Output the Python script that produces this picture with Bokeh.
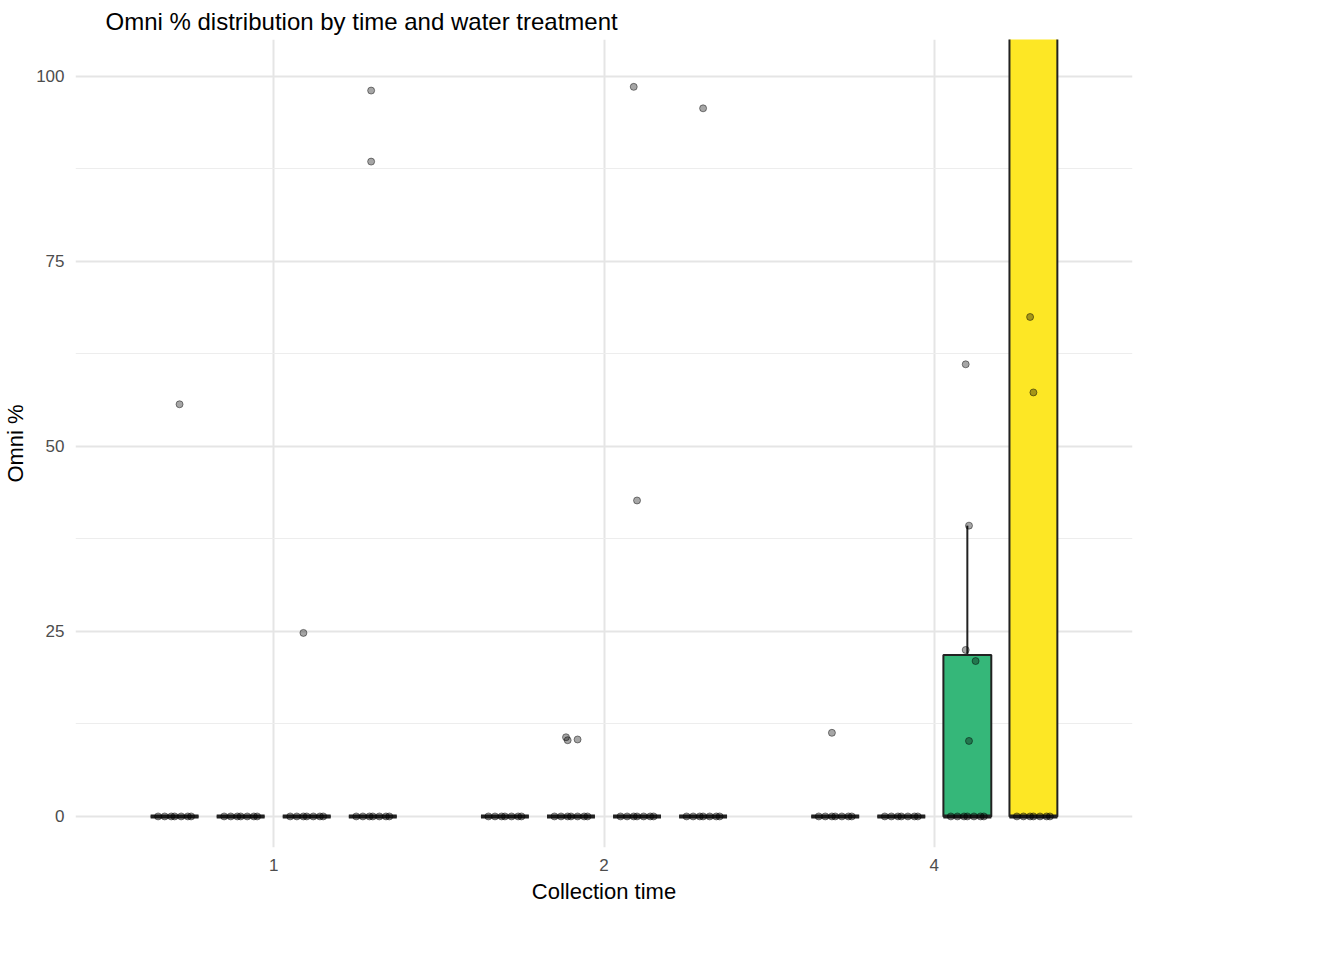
from bokeh.plotting import figure
from bokeh.models import FixedTicker, Legend, LegendItem, ColumnDataSource
from bokeh.embed import file_html
from bokeh.resources import INLINE

times = ["1", "2", "4"]
trts = ["0", "3", "6", "9"]
colors = ["#440154", "#31688E", "#35B779", "#FDE725"]
trt_offset = [-0.3, -0.1, 0.1, 0.3]

# box stats per (time, trt): q1, median, q3, whisker high
box_time = [0,0,0,0, 1,1,1,1, 2,2,2,2]
box_trt  = [0,1,2,3, 0,1,2,3, 0,1,2,3]
box_q1   = [0,0,0,0, 0,0,0,0, 0,0,0,0]
box_med  = [0,0,0,0, 0,0,0,0, 0,0,0,0]
box_q3   = [0,0,0,0, 0,0,0,0, 0,0,21.8,140]
box_whi  = [0,0,0,0, 0,0,0,0, 0,0,39.3,140]

pt_time = []
pt_trt = []
pt_val = []
pt_dx = []
zero_dx = [-0.05, -0.03, -0.01, 0.0, 0.02, 0.04, 0.05]
for ti in range(3):
    for tr in range(4):
        for d in zero_dx:
            pt_time.append(ti); pt_trt.append(tr); pt_val.append(0.0); pt_dx.append(d)
extra = [
    (0, 0, 55.7, 0.015), (0, 2, 24.8, -0.01), (0, 3, 98.1, -0.005), (0, 3, 88.5, -0.005),
    (1, 1, 10.7, -0.015), (1, 1, 10.3, -0.01), (1, 1, 10.4, 0.02),
    (1, 2, 98.6, -0.01), (1, 2, 42.7, 0.0), (1, 3, 95.7, 0.0),
    (2, 0, 11.3, -0.01), (2, 2, 61.1, -0.005), (2, 2, 39.3, 0.005), (2, 2, 22.5, -0.005),
    (2, 2, 21.0, 0.025), (2, 2, 10.2, 0.005), (2, 3, 67.5, -0.01), (2, 3, 57.3, 0.0),
]
for a, b, v, d in extra:
    pt_time.append(a); pt_trt.append(b); pt_val.append(v); pt_dx.append(d)

p = figure(frame_width=1057, frame_height=808, output_backend="svg", toolbar_location=None,
           x_range=(0.4, 3.6), y_range=(-4.2, 105),
           title="Omni % distribution by time and water treatment",
           min_border_left=10, min_border_right=10, min_border_top=10, min_border_bottom=10)
p.title.text_font = "Liberation Sans"
p.title.text_font_size = "24px"
p.title.text_font_style = "normal"
p.title.text_color = "black"
p.title.offset = 30
p.outline_line_color = None

for ax in (p.xaxis, p.yaxis):
    ax.axis_line_color = None
    ax.major_tick_line_color = None
    ax.minor_tick_line_color = None
    ax.major_label_text_font = "Liberation Sans"
    ax.major_label_text_font_size = "17px"
    ax.major_label_text_color = "#4d4d4d"
    ax.axis_label_text_font = "Liberation Sans"
    ax.axis_label_text_font_size = "22px"
    ax.axis_label_text_font_style = "normal"
    ax.axis_label_text_color = "black"
p.xaxis.axis_label = "Collection time"
p.yaxis.axis_label = "Omni %"
p.xaxis.ticker = FixedTicker(ticks=[1, 2, 3])
p.xaxis.major_label_overrides = {1: times[0], 2: times[1], 3: times[2]}
p.yaxis.ticker = FixedTicker(ticks=[0, 25, 50, 75, 100], minor_ticks=[12.5, 37.5, 62.5, 87.5])
p.xgrid.grid_line_color = "#e5e5e5"
p.xgrid.grid_line_width = 2
p.ygrid.grid_line_color = "#e5e5e5"
p.ygrid.grid_line_width = 2
p.ygrid.minor_grid_line_color = "#ededed"
p.ygrid.minor_grid_line_width = 1

bw = 0.145
renderers = {}
for tr in range(4):
    xs, q1, q3, med, whi = [], [], [], [], []
    for i in range(len(box_time)):
        if box_trt[i] == tr:
            xs.append(box_time[i] + 1 + trt_offset[tr])
            q1.append(box_q1[i]); q3.append(box_q3[i]); med.append(box_med[i]); whi.append(box_whi[i])
    src = ColumnDataSource(dict(x=xs, q1=q1, q3=q3, med=med, whi=whi,
                                l=[x - bw / 2 for x in xs], r=[x + bw / 2 for x in xs]))
    p.segment(x0="x", x1="x", y0="q3", y1="whi", source=src, line_color="#222222", line_width=2)
    r = p.quad(left="l", right="r", bottom="q1", top="q3", source=src,
               fill_color=colors[tr], line_color="#222222", line_width=2)
    p.segment(x0="l", x1="r", y0="med", y1="med", source=src, line_color="#222222", line_width=4)
    renderers[tr] = r

px = [pt_time[i] + 1 + trt_offset[pt_trt[i]] + pt_dx[i] for i in range(len(pt_val))]
p.scatter(px, pt_val, size=7, fill_color="black", fill_alpha=0.35, line_color="black", line_alpha=0.45)

legend = Legend(items=[LegendItem(label=trts[i], renderers=[renderers[i]]) for i in range(4)],
                title="WaterTrt", location="center")
legend.title_text_font = "Liberation Sans"
legend.title_text_font_size = "22px"
legend.title_text_font_style = "normal"
legend.title_text_color = "black"
legend.label_text_font = "Liberation Sans"
legend.label_text_font_size = "17px"
legend.glyph_width = 34
legend.glyph_height = 24
legend.spacing = 22
legend.margin = 30
legend.border_line_color = None
legend.background_fill_alpha = 0
p.add_layout(legend, "right")

open("out.html", "w").write(file_html(p, INLINE))
